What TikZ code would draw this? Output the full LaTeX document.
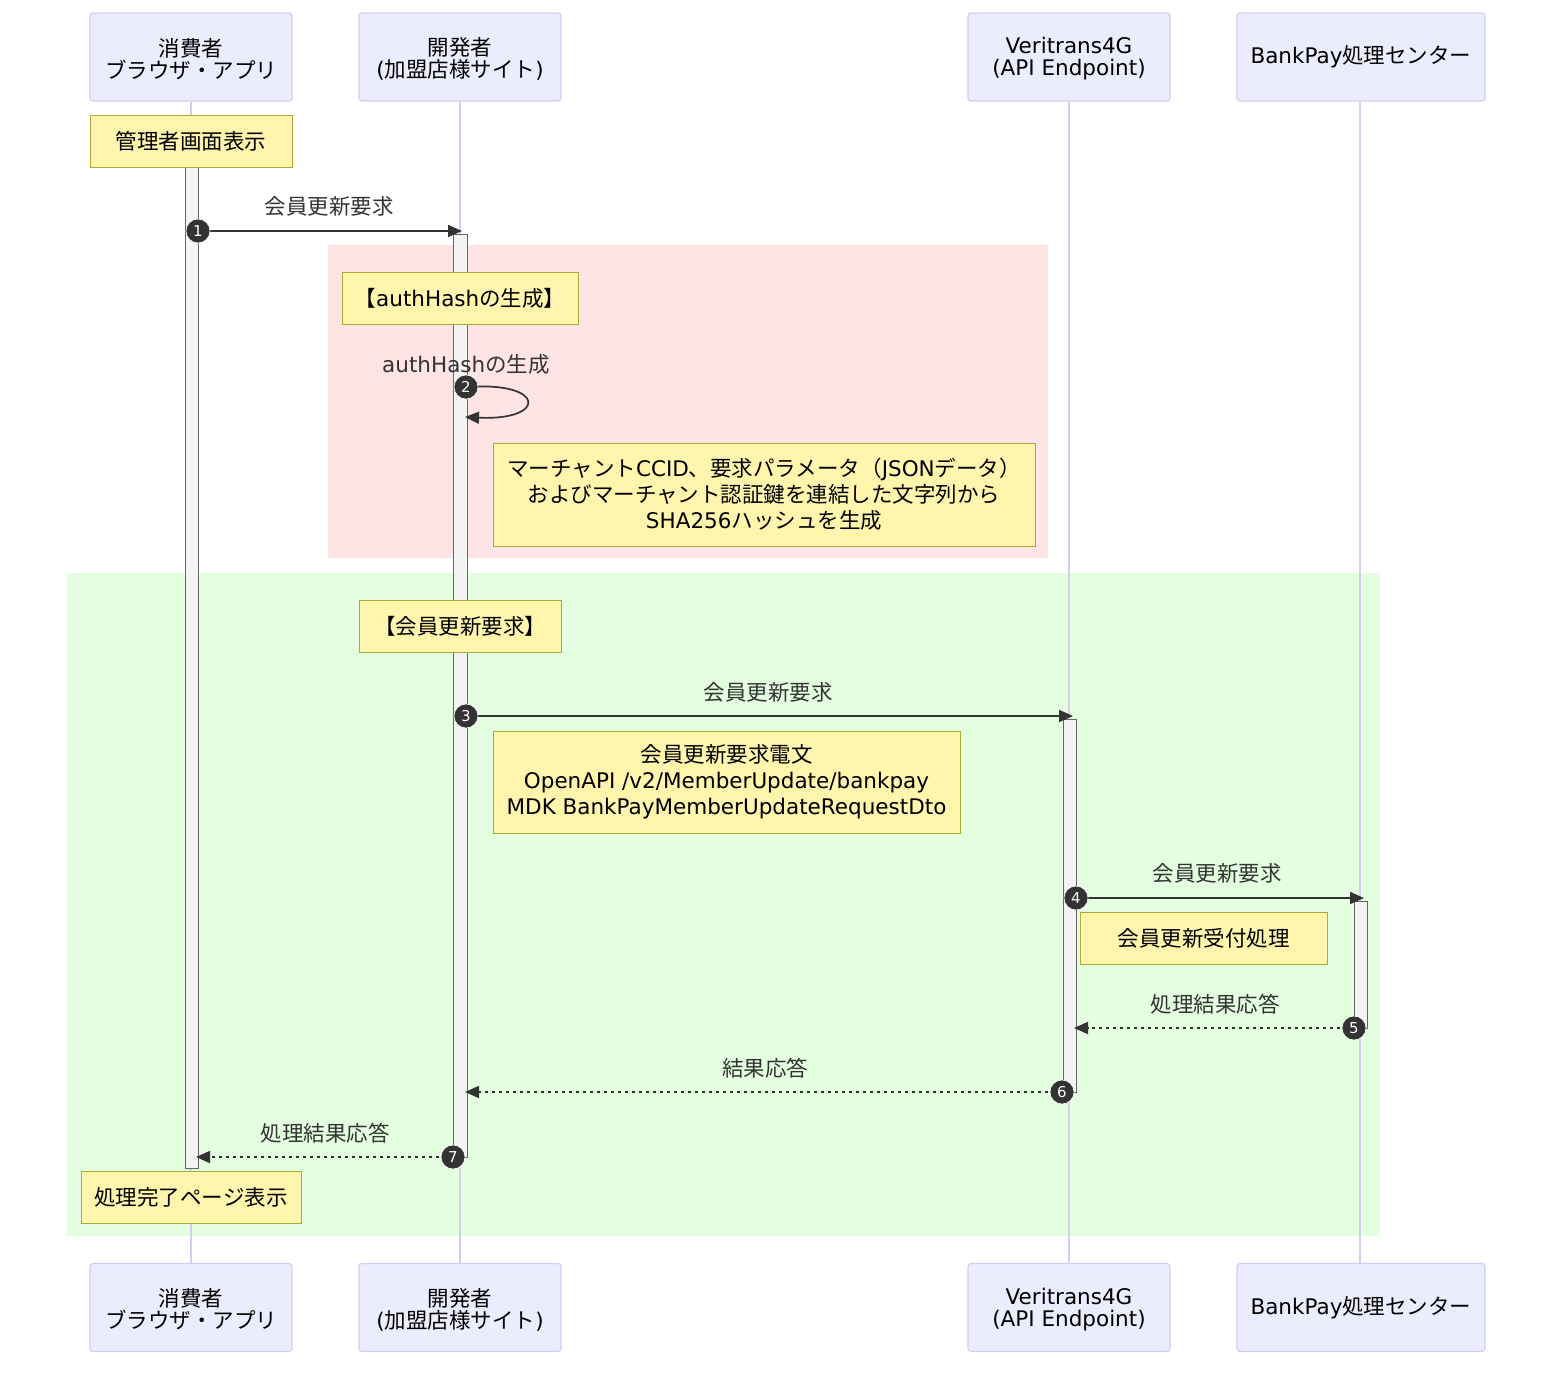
\documentclass[tikz,border=0pt]{standalone}
\usepackage{fontspec}
\setmainfont{DejaVu Sans}
\newfontfamily\jp{Noto Sans CJK JP}
\usetikzlibrary{arrows.meta}
\newcommand\J[1]{{\jp #1}}
\definecolor{actorfill}{HTML}{ECECFF}
\definecolor{actorline}{HTML}{D6CCF2}
\definecolor{notefill}{HTML}{FFF5AD}
\definecolor{noteline}{HTML}{AAAA33}
\definecolor{actfill}{HTML}{F4F4F4}
\definecolor{actline}{HTML}{666666}
\definecolor{pinkbg}{HTML}{FFE4E6}
\definecolor{greenbg}{HTML}{E3FFE0}
\definecolor{msgcol}{HTML}{333333}
\begin{document}
\begin{tikzpicture}[x=1pt,y=-1pt,
  font=\fontsize{21.5}{26}\selectfont,
  actor/.style={draw=actorline, fill=actorfill, rounded corners=3pt, line width=1.2pt,
    minimum width=202, minimum height=88, inner sep=0pt},
  actortext/.style={align=center, inner sep=0pt, font=\fontsize{21.5}{22}\selectfont},
  lifeline/.style={draw=actorline, line width=2pt},
  actbox/.style={draw=actline, fill=actfill, line width=1pt},
  note/.style={draw=noteline, fill=notefill, line width=1pt, align=center, inner sep=0pt},
  msglabel/.style={text=msgcol, inner sep=0pt},
  msg/.style={draw=msgcol, line width=1.7pt, -{Triangle[length=14pt,width=12pt]}},
  reply/.style={msg, dash pattern=on 3.5pt off 3.5pt},
  badge/.style={circle, fill=msgcol, draw=white, line width=0.6pt, minimum size=24, inner sep=0pt,
    text=white, font=\fontsize{15}{15}\selectfont}]
\useasboundingbox (0,0) rectangle (1568,1382);
\fill[white] (0,0) rectangle (1568,1382);

% background rects
\fill[pinkbg] (328,245) rectangle (1048,558);
\fill[greenbg] (67,573) rectangle (1380,1236);

% actors
\node[actor] (ct) at (191,57) {};
\node[actor] (dt) at (460,57) {};
\node[actor] (vt) at (1069,57) {};
\node[actor, minimum width=248] (bt) at (1361,57) {};
\node[actor] (cb) at (191,1307.5) {};
\node[actor] (db) at (460,1307.5) {};
\node[actor] (vb) at (1069,1307.5) {};
\node[actor, minimum width=248] (bb) at (1361,1307.5) {};
\foreach \y/\s in {59/t,1309.5/b}{
  \node[actortext] (ctx\s) at (191,\y) {\J{消費者}\\\J{ブラウザ・アプリ}};
  \node[actortext] (dtx\s) at (460,\y) {\J{開発者}\\(\J{加盟店様サイト})};
  \node[actortext] (vtx\s) at (1069,\y) {Veritrans4G\\(API Endpoint)};
  \node[actortext] (btx\s) at (1361,\y-2) {BankPay\J{処理センター}};
}

% lifelines
\draw[lifeline] (ct.south) -- (cb.north);
\draw[lifeline] (dt.south) -- (db.north);
\draw[lifeline] (vt.south -| 1069,0) -- (vb.north -| 1069,0);
\draw[lifeline] (bt.south -| 1360,0) -- (bb.north -| 1360,0);

% activations
\draw[actbox] (185,167) rectangle (198,1168);
\draw[actbox] (453,234) rectangle (467,1157);
\draw[actbox] (1063,719) rectangle (1076,1092);
\draw[actbox] (1354,901) rectangle (1367,1028);

% notes
\node[note, minimum width=202, minimum height=52] (n1) at (191,141) {\J{管理者画面表示}};
\node[note, minimum width=236, minimum height=52] (n2) at (460,298) {\J{【}authHash\J{の生成】}};
\node[note, minimum width=542, minimum height=103] (n3) at (764,494.5)
  {\J{マーチャント}CCID\J{、要求パラメータ（}JSON\J{データ）}\\\J{およびマーチャント認証鍵を連結した文字列から}\\SHA256\J{ハッシュを生成}};
\node[note, minimum width=202, minimum height=52] (n4) at (460,626) {\J{【会員更新要求】}};
\node[note, minimum width=467, minimum height=102] (n5) at (726.5,782)
  {\J{会員更新要求電文}\\OpenAPI /v2/MemberUpdate/bankpay\\MDK BankPayMemberUpdateRequestDto};
\node[note, minimum width=247, minimum height=52] (n6) at (1203.5,938) {\J{会員更新受付処理}};
\node[note, minimum width=220, minimum height=52] (n7) at (191,1197) {\J{処理完了ページ表示}};

% message endpoints
\coordinate (s1) at (198,231);  \coordinate (e1) at (462,231);
\coordinate (s2) at (466,387);  \coordinate (e2) at (465,417);
\coordinate (s3) at (466,716);  \coordinate (e3) at (1073,716);
\coordinate (s4) at (1076,898); \coordinate (e4) at (1364,898);
\coordinate (s5) at (1354,1028);\coordinate (e5) at (1074,1028);
\coordinate (s6) at (1062,1092);\coordinate (e6) at (465,1092);
\coordinate (s7) at (453,1157); \coordinate (e7) at (196,1157);

% messages
\draw[msg] (s1) -- (e1);
\draw[msg] (s2) .. controls (547,381) and (547,421) .. (e2);
\draw[msg] (s3) -- (e3);
\draw[msg] (s4) -- (e4);
\draw[reply] (s5) -- (e5);
\draw[reply] (s6) -- (e6);
\draw[reply] (s7) -- (e7);

% labels
\node[msglabel] (l1) at (329,206) {\J{会員更新要求}};
\node[msglabel] (l2) at (466,364) {authHash\J{の生成}};
\node[msglabel] (l3) at (768,692) {\J{会員更新要求}};
\node[msglabel] (l4) at (1217,873) {\J{会員更新要求}};
\node[msglabel] (l5) at (1215,1004) {\J{処理結果応答}};
\node[msglabel] (l6) at (765,1068) {\J{結果応答}};
\node[msglabel] (l7) at (325,1133) {\J{処理結果応答}};

% badges
\node[badge] (b1) at (s1) {1};
\node[badge] (b2) at (s2) {2};
\node[badge] (b3) at (s3) {3};
\node[badge] (b4) at (s4) {4};
\node[badge] (b5) at (s5) {5};
\node[badge] (b6) at (s6) {6};
\node[badge] (b7) at (s7) {7};
\end{tikzpicture}
\end{document}
